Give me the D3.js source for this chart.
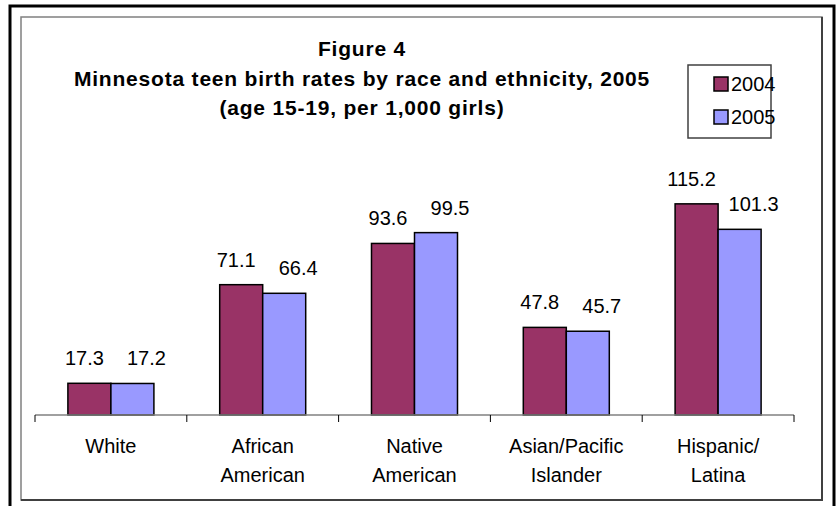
<!DOCTYPE html>
<html>
<head>
<meta charset="utf-8">
<script src="https://cdn.jsdelivr.net/npm/d3@7"></script>
<style>
  body { margin: 0; background: #fff; }
  svg { display: block; font-family: "Liberation Sans", Arial, sans-serif; }
</style>
</head>
<body>
<script>
// chart data
var categories = [["White"], ["African", "American"], ["Native", "American"], ["Asian/Pacific", "Islander"], ["Hispanic/", "Latina"]];
var years = ["2004", "2005"];
var rates2004 = [17.3, 71.1, 93.6, 47.8, 115.2];
var rates2005 = [17.2, 66.4, 99.5, 45.7, 101.3];
var titleLines = ["Figure 4", "Minnesota teen birth rates by race and ethnicity, 2005", "(age 15-19, per 1,000 girls)"];

var width = 837, height = 506;
var colors = { "2004": "#993366", "2005": "#9999FF" };
var labelShift = { "2004": -5, "2005": 14 };

var svg = d3.select("body").append("svg")
    .attr("width", width)
    .attr("height", height);

// outer frame + chart area
svg.append("rect")
    .attr("x", 10).attr("y", 6)
    .attr("width", 824).attr("height", 520)
    .attr("fill", "#fff")
    .attr("stroke", "#000")
    .attr("stroke-width", 3);

svg.append("rect")
    .attr("x", 21).attr("y", 17)
    .attr("width", 801).attr("height", 483)
    .attr("fill", "#fff")
    .attr("stroke", "#808080")
    .attr("stroke-width", 1.5);
// darker shadow on right / bottom
svg.append("path")
    .attr("d", "M822,17V500H21")
    .attr("fill", "none")
    .attr("stroke", "#404040")
    .attr("stroke-width", 2);

var x0 = d3.scaleBand()
    .domain(d3.range(categories.length))
    .range([35, 794]);

var x1 = d3.scaleBand()
    .domain(years)
    .range([0, x0.bandwidth()])
    .paddingOuter(0.765);

var y = d3.scaleLinear()
    .domain([0, 140])
    .range([415, 158.4]);

var rows = categories.map((c, i) => ({ i: i, values: [
    { year: "2004", v: rates2004[i] },
    { year: "2005", v: rates2005[i] }
] }));

var groups = svg.append("g").selectAll("g")
    .data(rows)
    .join("g")
    .attr("transform", d => `translate(${x0(d.i)},0)`);

groups.selectAll("rect")
    .data(d => d.values)
    .join("rect")
    .attr("x", d => x1(d.year))
    .attr("y", d => y(d.v))
    .attr("width", x1.bandwidth())
    .attr("height", d => y(0) - y(d.v))
    .attr("fill", d => colors[d.year])
    .attr("stroke", "#000")
    .attr("stroke-width", 1.5);

groups.selectAll("text.val")
    .data(d => d.values)
    .join("text")
    .attr("class", "val")
    .attr("x", d => x1(d.year) + x1.bandwidth() / 2 + labelShift[d.year])
    .attr("y", d => y(d.v) - 18)
    .attr("text-anchor", "middle")
    .attr("font-size", 20)
    .text(d => d.v.toFixed(1));

// x axis
var axis = svg.append("g");
axis.append("line")
    .attr("x1", x0.range()[0]).attr("x2", x0.range()[1])
    .attr("y1", y(0)).attr("y2", y(0))
    .attr("stroke", "#808080")
    .attr("stroke-width", 1.5);
axis.selectAll("line.tick")
    .data(d3.range(categories.length + 1))
    .join("line")
    .attr("class", "tick")
    .attr("x1", d => x0.range()[0] + d * x0.step())
    .attr("x2", d => x0.range()[0] + d * x0.step())
    .attr("y1", y(0)).attr("y2", y(0) + 7)
    .attr("stroke", "#000")
    .attr("stroke-width", 1);

axis.selectAll("text")
    .data(rows)
    .join("text")
    .attr("x", d => x0(d.i) + x0.bandwidth() / 2)
    .attr("y", 453)
    .attr("text-anchor", "middle")
    .attr("font-size", 20)
    .selectAll("tspan")
    .data(d => categories[d.i])
    .join("tspan")
    .attr("x", function () { return this.parentNode.getAttribute("x"); })
    .attr("dy", (d, k) => k ? 29 : 0)
    .text(d => d);

// title
svg.append("g").selectAll("text")
    .data(titleLines)
    .join("text")
    .attr("x", 362)
    .attr("y", (d, i) => 56 + i * 29.5)
    .attr("text-anchor", "middle")
    .attr("font-size", 21)
    .attr("letter-spacing", 0.8)
    .attr("font-weight", "bold")
    .text(d => d);

// legend
var legend = svg.append("g");
legend.append("rect")
    .attr("x", 688).attr("y", 65)
    .attr("width", 83).attr("height", 73)
    .attr("fill", "#fff")
    .attr("stroke", "#404040")
    .attr("stroke-width", 1.5);
var li = legend.selectAll("g")
    .data(years)
    .join("g")
    .attr("transform", (d, i) => `translate(714,${77 + i * 33})`);
li.append("rect")
    .attr("width", 14).attr("height", 14)
    .attr("fill", d => colors[d])
    .attr("stroke", "#000")
    .attr("stroke-width", 1.5);
li.append("text")
    .attr("x", 17).attr("y", 14)
    .attr("font-size", 20)
    .text(d => d);
</script>
</body>
</html>
